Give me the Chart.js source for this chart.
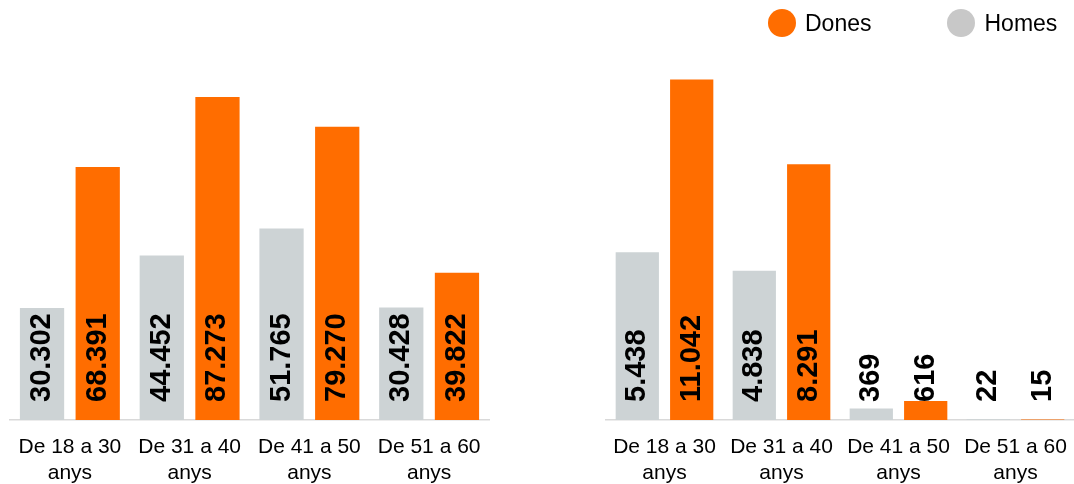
<!DOCTYPE html>
<html><head><meta charset="utf-8">
<script src="https://cdn.jsdelivr.net/npm/chart.js@4"></script>
<style>
html,body{margin:0;padding:0;background:#fff;}
#wrap{position:relative;width:1074px;height:484px;overflow:hidden;font-family:"Liberation Sans",Arial,sans-serif;}
#c1{position:absolute;left:0;top:0;}
#c2{position:absolute;left:596px;top:0;}
#legend{position:absolute;left:768px;top:9px;display:flex;align-items:center;}
.item{display:flex;align-items:center;margin-right:76px;}
.dot{width:28px;height:28px;border-radius:50%;margin-right:9px;}
.lbl{font-size:23px;color:#000;line-height:28px;}
</style></head>
<body>
<div id="wrap">
  <canvas id="c1" width="500" height="484"></canvas>
  <canvas id="c2" width="478" height="484"></canvas>
  <div id="legend"></div>
</div>
<script>
// ---- data ----
const categories = [["De 18 a 30","anys"],["De 31 a 40","anys"],["De 41 a 50","anys"],["De 51 a 60","anys"]];
const seriesNames = ["Homes","Dones"];
const homesPanell1 = [30302, 44452, 51765, 30428];
const donesPanell1 = [68391, 87273, 79270, 39822];
const homesPanell2 = [5438, 4838, 369, 22];
const donesPanell2 = [11042, 8291, 616, 15];
const maxPanell1 = 100000;
const maxPanell2 = 12000;

// ---- styles ----
const GREY = "#CDD3D5";
const ORANGE = "#FF6D00";
const LEGEND_GREY = "#C8C8C8";
const FONT = '"Liberation Sans", Arial, sans-serif';

function fmt(v){ return String(v).replace(/\B(?=(\d{3})+(?!\d))/g, "."); }

const valueLabels = {
  id: "valueLabels",
  afterDatasetsDraw(chart){
    const ctx = chart.ctx;
    const base = chart.scales.y.getPixelForValue(0);
    ctx.save();
    ctx.font = "bold 29px " + FONT;
    ctx.fillStyle = "#000";
    ctx.textAlign = "left";
    ctx.textBaseline = "middle";
    chart.data.datasets.forEach((ds, i) => {
      chart.getDatasetMeta(i).data.forEach((bar, j) => {
        ctx.save();
        ctx.translate(bar.x, base - 18);
        ctx.rotate(-Math.PI / 2);
        ctx.fillText(fmt(ds.data[j]), 0, 0);
        ctx.restore();
      });
    });
    ctx.restore();
  }
};

function makeChart(id, homes, dones, max, padRight){
  return new Chart(document.getElementById(id), {
    type: "bar",
    data: {
      labels: categories,
      datasets: [
        {label: seriesNames[0], data: homes, backgroundColor: GREY},
        {label: seriesNames[1], data: dones, backgroundColor: ORANGE}
      ]
    },
    options: {
      responsive: false,
      animation: false,
      devicePixelRatio: 1,
      layout: {padding: {left: 10, right: padRight, top: 50, bottom: 0}},
      plugins: {legend: {display: false}, tooltip: {enabled: false}},
      datasets: {bar: {categoryPercentage: 0.93, barPercentage: 0.795}},
      scales: {
        x: {
          grid: {display: false},
          border: {display: true, color: "#D9D9D9", width: 1.5},
          ticks: {color: "#000", font: {family: FONT, size: 21, lineHeight: 1.2}, padding: 7, maxRotation: 0, autoSkip: false},
          afterFit(s){ s.height = 64; s.paddingLeft = 0; s.paddingRight = 0; }
        },
        y: {display: false, min: 0, max: max}
      }
    },
    plugins: [valueLabels]
  });
}

const chart1 = makeChart("c1", homesPanell1, donesPanell1, maxPanell1, 11);
const chart2 = makeChart("c2", homesPanell2, donesPanell2, maxPanell2, 0);

// legend (Dones first, then Homes)
const legendColors = {"Homes": LEGEND_GREY, "Dones": ORANGE};
const leg = document.getElementById("legend");
chart2.data.datasets.slice().reverse().forEach(ds => {
  const item = document.createElement("div");
  item.className = "item";
  const dot = document.createElement("span");
  dot.className = "dot";
  dot.style.background = legendColors[ds.label];
  const lbl = document.createElement("span");
  lbl.className = "lbl";
  lbl.textContent = ds.label;
  item.appendChild(dot); item.appendChild(lbl);
  leg.appendChild(item);
});
</script>
</body></html>
